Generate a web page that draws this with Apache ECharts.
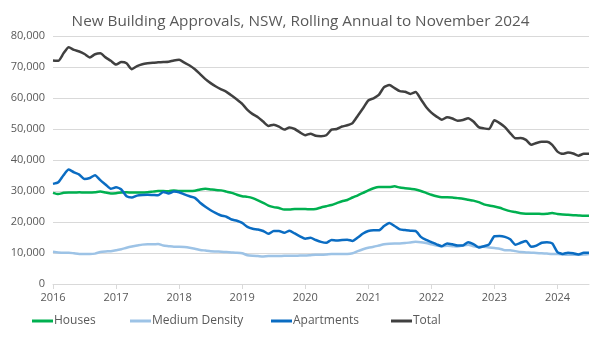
<!DOCTYPE html>
<html>
<head>
<meta charset="utf-8">
<script src="https://cdn.jsdelivr.net/npm/echarts@6/dist/echarts.min.js"></script>
<style>
html,body{margin:0;padding:0;background:#fff;}
#chart{width:601px;height:337px;}
</style>
</head>
<body>
<div id="chart"></div>
<script>
var months = ['2016-01','2016-02','2016-03','2016-04','2016-05','2016-06','2016-07','2016-08','2016-09','2016-10','2016-11','2016-12',
'2017-01','2017-02','2017-03','2017-04','2017-05','2017-06','2017-07','2017-08','2017-09','2017-10','2017-11','2017-12',
'2018-01','2018-02','2018-03','2018-04','2018-05','2018-06','2018-07','2018-08','2018-09','2018-10','2018-11','2018-12',
'2019-01','2019-02','2019-03','2019-04','2019-05','2019-06','2019-07','2019-08','2019-09','2019-10','2019-11','2019-12',
'2020-01','2020-02','2020-03','2020-04','2020-05','2020-06','2020-07','2020-08','2020-09','2020-10','2020-11','2020-12',
'2021-01','2021-02','2021-03','2021-04','2021-05','2021-06','2021-07','2021-08','2021-09','2021-10','2021-11','2021-12',
'2022-01','2022-02','2022-03','2022-04','2022-05','2022-06','2022-07','2022-08','2022-09','2022-10','2022-11','2022-12',
'2023-01','2023-02','2023-03','2023-04','2023-05','2023-06','2023-07','2023-08','2023-09','2023-10','2023-11','2023-12',
'2024-01','2024-02','2024-03','2024-04','2024-05','2024-06','2024-07'];

var houses = [29400,29000,29400,29500,29500,29600,29500,29500,29600,29800,29500,29200,
29300,29500,29600,29500,29500,29500,29600,29800,30000,30000,29900,30200,
30000,30000,30000,30100,30500,30700,30500,30300,30200,29800,29400,28800,
28300,28100,27700,27000,26200,25300,24800,24500,24000,24000,24200,24200,
24200,24100,24200,24700,25100,25500,26100,26700,27100,27900,28600,29400,
30200,30900,31300,31300,31300,31500,31100,30900,30700,30500,30000,29400,
28800,28300,28000,28000,27900,27700,27500,27200,26900,26400,25700,25300,
25000,24600,24000,23500,23200,22800,22700,22700,22700,22600,22700,22900,
22600,22400,22300,22200,22100,22000,22000];

var mediumDensity = [10400,10200,10100,10100,9900,9700,9700,9700,9800,10300,10500,10600,
10900,11200,11700,12100,12400,12700,12800,12800,12900,12400,12200,12000,
12000,11900,11700,11400,11000,10800,10600,10500,10400,10300,10200,10100,
9900,9300,9100,9000,8900,9000,9000,9000,9100,9100,9100,9200,
9200,9300,9400,9400,9500,9700,9700,9700,9700,9900,10600,11200,
11700,12000,12400,12800,13000,13100,13100,13200,13400,13600,13500,13200,
12800,12400,12200,12300,12200,12100,12400,12700,12200,12000,12000,11800,
11600,11400,10900,10900,10600,10300,10200,10100,10000,9900,9800,9700,
9700,9500,9400,9400,9400,9500,9700];

var apartments = [32300,32800,35100,36900,36000,35300,33900,34200,35100,33500,32100,30700,
31200,30500,28300,27900,28500,28700,28800,28700,28600,29700,29200,29800,
29600,28900,28300,27800,26200,24900,23800,22900,22100,21700,20800,20400,
19700,18400,17800,17600,17100,16200,17100,17100,16500,17200,16300,15400,
14600,14900,14200,13600,13300,14200,14000,14200,14300,13900,15000,16300,
17100,17300,17300,18700,19700,18700,17600,17400,17200,17100,15200,14200,
13500,12800,12200,13100,12800,12400,12400,13500,12900,11800,12200,12800,
15400,15500,15200,14400,12700,13300,13900,12000,12400,13300,13500,13100,
10300,9700,10100,9900,9500,10100,10100];

var total = [72100,72000,74400,76400,75500,75000,74200,73100,74100,74400,73100,72000,
70800,71600,71200,69300,70300,70900,71200,71400,71500,71600,71700,72100,
72300,71400,70500,69300,67700,66100,64800,63700,62800,62000,60800,59500,
58100,56200,54800,53800,52400,51000,51400,50800,49800,50500,50000,48900,
48000,48500,47800,47700,48000,49800,50000,50800,51200,51900,54300,56700,
59200,59900,61000,63500,64200,63200,62200,62000,61300,61900,59600,57100,
55300,54000,53000,53800,53400,52700,52900,53500,52400,50600,50200,50000,
52800,51900,50600,48700,47000,47100,46500,44900,45500,45900,45900,44900,
42700,42000,42400,42100,41400,42000,42000];

var seriesNames = ['Houses','Medium Density','Apartments','Total'];
var seriesColors = ['#00B050','#9DC3E6','#0A6CC2','#404040'];
var seriesData = [houses, mediumDensity, apartments, total];
var legendLefts = [32, 130, 271, 391];

var FONT = '"Open Sans", sans-serif';
var TXT = '#595959';

var chart = echarts.init(document.getElementById('chart'), null, {renderer:'canvas'});

var legends = seriesNames.map(function(n, i){
  return {
    data:[n], left: legendLefts[i], top: 315, padding:0,
    icon:'rect', itemWidth:21, itemHeight:3, itemGap:0,
    textStyle:{color:TXT, fontFamily:FONT, fontSize:12, padding:[0,0,0,-4]},
    selectedMode:false
  };
});

var option = {
  animation:false,
  backgroundColor:'#fff',
  title:{
    text:'New Building Approvals, NSW, Rolling Annual to November 2024',
    left:'center', top:9,
    textStyle:{color:TXT, fontFamily:FONT, fontWeight:'normal', fontSize:15.3}
  },
  legend: legends,
  grid:{left:53, right:12, top:36, bottom:53, containLabel:false},
  xAxis:{
    type:'category', data:months, boundaryGap:false,
    axisLine:{lineStyle:{color:'#d9d9d9'}},
    axisTick:{show:true, interval:function(i){return i % 12 === 0;}, length:5, lineStyle:{color:'#d9d9d9'}},
    axisLabel:{interval:function(i){return i % 12 === 0;}, formatter:function(v){return v.slice(0,4);},
      color:TXT, fontFamily:FONT, fontSize:11, margin:8},
    splitLine:{show:false}
  },
  yAxis:{
    type:'value', min:0, max:80000, interval:10000,
    axisLine:{show:false}, axisTick:{show:false},
    axisLabel:{color:TXT, fontFamily:FONT, fontSize:11, margin:8,
      formatter:function(v){return v.toLocaleString('en-US');}},
    splitLine:{lineStyle:{color:'#d9d9d9', width:1}}
  },
  series: seriesNames.map(function(n, i){
    return {
      name:n, type:'line', data:seriesData[i], showSymbol:false, symbol:'none',
      smooth:0.2, lineStyle:{color:seriesColors[i], width:2.5}, itemStyle:{color:seriesColors[i]}
    };
  })
};
chart.setOption(option);
</script>
</body>
</html>
